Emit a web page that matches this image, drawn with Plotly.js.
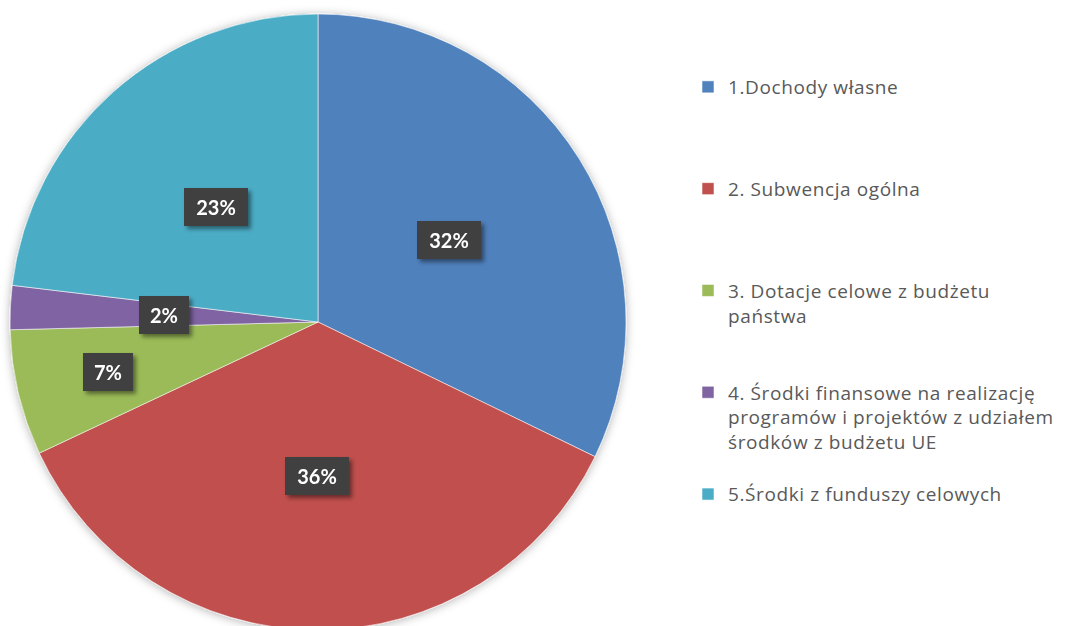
<!DOCTYPE html>
<html><head><meta charset="utf-8">
<script src="https://cdn.plot.ly/plotly-3.0.1.min.js"></script>
<style>
html,body{margin:0;padding:0;overflow:hidden;background:#fff}
.legendtext{letter-spacing:0.6px}
</style>
</head><body>
<div id="chart" style="width:1070px;height:634px"></div>
<script>
// ---- data ----
const categories = [
  "1.Dochody własne",
  "2. Subwencja ogólna",
  "3. Dotacje celowe z budżetu państwa",
  "4. Środki finansowe na realizację programów i projektów z udziałem środków z budżetu UE",
  "5.Środki z funduszy celowych"
];
const legendLines = [
  ["1.Dochody własne"],
  ["2. Subwencja ogólna"],
  ["3. Dotacje celowe z budżetu", "państwa"],
  ["4. Środki finansowe na realizację", "programów i projektów z udziałem", "środków z budżetu UE"],
  ["5.Środki z funduszy celowych"]
];
const values = [32.2, 35.8, 6.6, 2.3, 23.1];
const colors = ["#4F81BD", "#C0504D", "#9BBB59", "#8064A2", "#4BACC6"];

// ---- layout geometry ----
const W = 1070, H = 634, mt = 14, mb = 4;
const plotH = H - mt - mb;
const domX = [10 / W, 626 / W];
const cxPx = (domX[0] + domX[1]) / 2 * W;
const cyPx = mt + plotH / 2;
const rPx = Math.min((domX[1] - domX[0]) * W, plotH) / 2;

const LINES_PER_ITEM = 4;
const legendLabels = legendLines.map(ls => {
  const out = ls.slice();
  while (out.length < LINES_PER_ITEM) out.push("\u00a0");
  return out.join("<br>");
});

// ---- data labels (computed from values) ----
const total = values.reduce((a, b) => a + b, 0);
let cum = 0;
const mids = values.map(v => { const m = (cum + v / 2) / total * 2 * Math.PI; cum += v; return m; });
const pctText = values.map(v => Math.round(v / total * 100) + "%");
const boxes = [];
const placed = new Array(values.length);
const pad = 16, BORDERPAD = 7;
for (let i = values.length - 1; i >= 0; i--) {
  const w = 14 * pctText[i].length + 22, h = 40;
  let rf = 0.5, x, y;
  for (; rf < 0.95; rf += 0.02) {
    x = cxPx + rf * rPx * Math.sin(mids[i]);
    y = cyPx - rf * rPx * Math.cos(mids[i]);
    const hit = boxes.some(b => Math.abs(b.x - x) < (b.w + w) / 2 + pad && Math.abs(b.y - y) < (b.h + h) / 2 + pad);
    if (!hit) break;
  }
  boxes.push({x, y, w, h});
  placed[i] = {x, y, w};
}
const annotations = values.map((v, i) => ({
  xref: "paper", yref: "paper",
  x: placed[i].x / W, y: 1 - (placed[i].y - mt) / plotH,
  xanchor: "center", yanchor: "middle",
  text: pctText[i], showarrow: false,
  width: placed[i].w - 2 * BORDERPAD,
  bgcolor: "#404040", borderpad: BORDERPAD, borderwidth: 0,
  font: {family: "Lato, 'Open Sans', sans-serif", size: 20, color: "#ffffff", weight: "bold"}
}));

const trace = {
  type: "pie",
  labels: legendLabels,
  values: values,
  sort: false,
  direction: "clockwise",
  rotation: 0,
  textinfo: "none",
  hoverinfo: "skip",
  marker: {colors: colors, line: {color: "rgba(255,255,255,0.55)", width: 1}},
  domain: {x: domX, y: [0, 1]}
};

const layout = {
  width: W, height: H,
  margin: {l: 0, r: 0, t: mt, b: mb, pad: 0},
  paper_bgcolor: "#ffffff",
  showlegend: true,
  legend: {
    x: 688 / W, xanchor: "left",
    y: 1 - (68 - mt) / plotH, yanchor: "top",
    valign: "top",
    font: {family: "'Open Sans', Lato, sans-serif", size: 19, color: "#595959"},
    bgcolor: "rgba(0,0,0,0)"
  },
  annotations: annotations
};

const gd = document.getElementById("chart");
Plotly.newPlot(gd, [trace], layout, {displayModeBar: false, staticPlot: true}).then(() => {
  const NS = "http://www.w3.org/2000/svg";
  const svg = gd.querySelector(".main-svg");
  let defs = svg.querySelector("defs");
  if (!defs) { defs = document.createElementNS(NS, "defs"); svg.insertBefore(defs, svg.firstChild); }
  function mkShadow(id, dx, dy, sd, op) {
    const f = document.createElementNS(NS, "filter");
    f.setAttribute("id", id);
    f.setAttribute("x", "-20%"); f.setAttribute("y", "-20%");
    f.setAttribute("width", "140%"); f.setAttribute("height", "140%");
    const s = document.createElementNS(NS, "feDropShadow");
    s.setAttribute("dx", dx); s.setAttribute("dy", dy);
    s.setAttribute("stdDeviation", sd);
    s.setAttribute("flood-color", "#000"); s.setAttribute("flood-opacity", op);
    f.appendChild(s); defs.appendChild(f);
  }
  mkShadow("pieShadow", 0, 1, 5, 0.3);
  mkShadow("boxShadow", 3, 3, 2, 0.45);
  const pl = gd.querySelector(".pielayer");
  if (pl) pl.setAttribute("filter", "url(#pieShadow)");
  gd.querySelectorAll(".annotation").forEach(a => a.setAttribute("filter", "url(#boxShadow)"));
});
</script>
</body></html>
